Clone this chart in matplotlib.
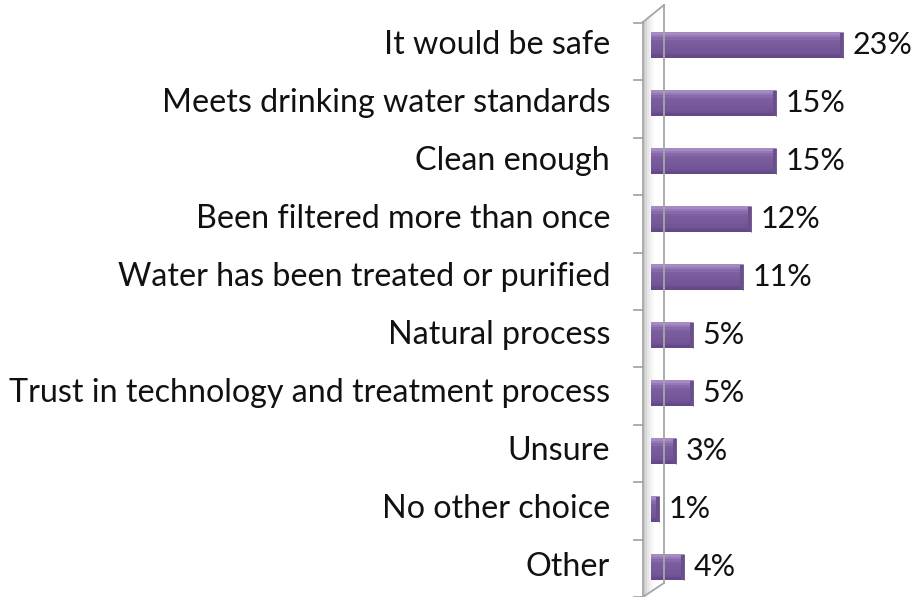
import matplotlib
matplotlib.use("Agg")
import matplotlib.pyplot as plt
from matplotlib.lines import Line2D
from matplotlib.patches import Polygon
import numpy as np

categories = ["It would be safe", "Meets drinking water standards", "Clean enough",
              "Been filtered more than once", "Water has been treated or purified",
              "Natural process", "Trust in technology and treatment process",
              "Unsure", "No other choice", "Other"]
values = [23, 15, 15, 12, 11, 5, 5, 3, 1, 4]
value_labels = ["23%", "15%", "15%", "12%", "11%", "5%", "5%", "3%", "1%", "4%"]

plt.rcParams['font.family'] = ['Lato', 'DejaVu Sans']

W, H = 917, 597
fig = plt.figure(figsize=(W/100, H/100), dpi=100)
ax = fig.add_axes([651/W, 1-596/H, (900-651)/W, (596-16)/H])
ax.set_xlim(0, 29.8)
ax.set_ylim(9.5, -0.5)
ax.axis('off')

def px(x, y):
    return (x/W, 1-y/H)

wall_col = '#a6a6a6'
for (x0, y0), (x1, y1) in [((643, 22), (643, 597)), ((664, 5), (664, 583)),
                           ((643, 22), (664, 5)), ((643, 597), (664, 583))]:
    fig.add_artist(Line2D([px(x0, y0)[0], px(x1, y1)[0]], [px(x0, y0)[1], px(x1, y1)[1]],
                          transform=fig.transFigure, color=wall_col, lw=1.3))
shades = ['#c8c8c8', '#d6d6d6', '#e2e2e2', '#ebebeb', '#f2f2f2', '#f8f8f8']
for k, c in enumerate(shades):
    xa = 644 + k*1.6
    xb = xa + 1.6
    poly = Polygon([px(xa, 22 - (xa-643)*17/21), px(xb, 22 - (xb-643)*17/21),
                    px(xb, 597 - (xb-643)*14/21), px(xa, 597 - (xa-643)*14/21)],
                   closed=True, transform=fig.transFigure, facecolor=c, edgecolor='none', zorder=0)
    fig.add_artist(poly)

for i in range(len(categories) + 1):
    yb = 23 + i * 57.4
    if yb > 597:
        break
    fig.add_artist(Line2D([px(634, yb)[0], px(643, yb)[0]], [px(634, yb)[1], px(643, yb)[1]],
                          transform=fig.transFigure, color=wall_col, lw=1.3))

y = np.arange(len(categories))
h = 0.45
strip_cols = ['#a48cc2', '#9479b6', '#8669aa', '#7d5fa0', '#7a5c9d', '#785a9b', '#76589a',
              '#735697', '#6e5192', '#644889']
n = len(strip_cols)
for k, c in enumerate(strip_cols):
    yc = y - h/2 + (k + 0.5) * h / n
    ax.barh(yc, values, height=h/n + 0.002, color=c, edgecolor='none', zorder=3)
cap = 0.35
ax.barh(y, [cap]*len(values), left=np.array(values) - cap, height=h*0.9,
        color='#6a4f8d', edgecolor='none', zorder=4)
ax.barh(y, [0.001]*len(values), left=np.array(values), height=h, color='none',
        edgecolor='#5a4179', linewidth=0.6, zorder=4)

for yi, v, lab, cat in zip(y, values, value_labels, categories):
    ax.text(v + 1.1, yi, lab, va='center', ha='left', fontsize=22, color='#111111', zorder=5)
    fig.text(610/W, 1 - (45 + yi*58)/H, cat, ha='right', va='center', fontsize=23.2, color='#111111')

fig.savefig("out.png", dpi=100)
